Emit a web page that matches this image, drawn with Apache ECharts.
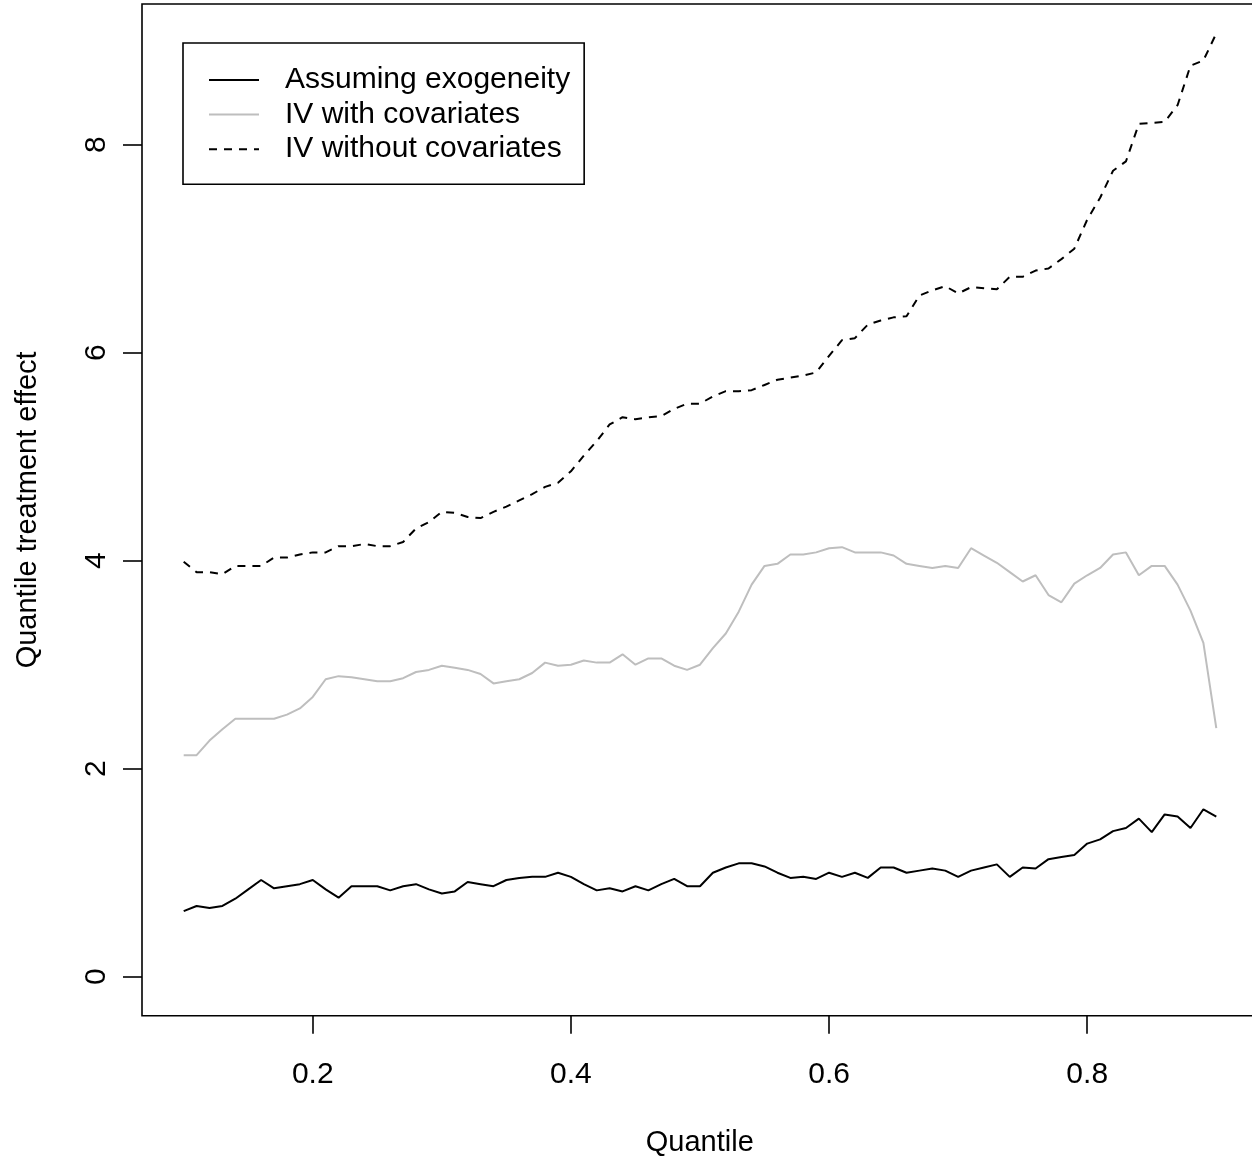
<!DOCTYPE html>
<html>
<head>
<meta charset="utf-8">
<script src="https://cdn.jsdelivr.net/npm/echarts@6/dist/echarts.min.js"></script>
<style>
html,body{margin:0;padding:0;background:#fff;}
#chart{width:1252px;height:1162px;}
</style>
</head>
<body>
<div id="chart"></div>
<script>
const quantiles = [0.10,0.11,0.12,0.13,0.14,0.15,0.16,0.17,0.18,0.19,
0.20,0.21,0.22,0.23,0.24,0.25,0.26,0.27,0.28,0.29,
0.30,0.31,0.32,0.33,0.34,0.35,0.36,0.37,0.38,0.39,
0.40,0.41,0.42,0.43,0.44,0.45,0.46,0.47,0.48,0.49,
0.50,0.51,0.52,0.53,0.54,0.55,0.56,0.57,0.58,0.59,
0.60,0.61,0.62,0.63,0.64,0.65,0.66,0.67,0.68,0.69,
0.70,0.71,0.72,0.73,0.74,0.75,0.76,0.77,0.78,0.79,
0.80,0.81,0.82,0.83,0.84,0.85,0.86,0.87,0.88,0.89,0.90];

const exogeneity = [0.63,0.68,0.66,0.68,0.75,0.84,0.93,0.85,0.87,0.89,
0.93,0.84,0.76,0.87,0.87,0.87,0.83,0.87,0.89,0.84,
0.80,0.82,0.91,0.89,0.87,0.93,0.95,0.96,0.96,1.00,
0.96,0.89,0.83,0.85,0.82,0.87,0.83,0.89,0.94,0.87,
0.87,1.00,1.05,1.09,1.09,1.06,1.00,0.95,0.96,0.94,
1.00,0.96,1.00,0.95,1.05,1.05,1.00,1.02,1.04,1.02,
0.96,1.02,1.05,1.08,0.96,1.05,1.04,1.13,1.15,1.17,
1.28,1.32,1.40,1.43,1.52,1.39,1.56,1.54,1.43,1.61,1.54];

const ivWithCov = [2.13,2.13,2.27,2.38,2.48,2.48,2.48,2.48,2.52,2.58,
2.69,2.86,2.89,2.88,2.86,2.84,2.84,2.87,2.93,2.95,
2.99,2.97,2.95,2.91,2.82,2.84,2.86,2.92,3.02,2.99,
3.00,3.04,3.02,3.02,3.10,3.00,3.06,3.06,2.99,2.95,
3.00,3.16,3.30,3.51,3.77,3.95,3.97,4.06,4.06,4.08,
4.12,4.13,4.08,4.08,4.08,4.05,3.97,3.95,3.93,3.95,
3.93,4.12,4.05,3.98,3.89,3.80,3.86,3.67,3.60,3.78,
3.86,3.93,4.06,4.08,3.86,3.95,3.95,3.77,3.52,3.21,2.39];

const ivWithoutCov = [3.99,3.89,3.89,3.87,3.95,3.95,3.95,4.03,4.03,4.06,
4.08,4.08,4.14,4.14,4.16,4.14,4.14,4.18,4.31,4.37,
4.47,4.46,4.42,4.41,4.47,4.52,4.58,4.64,4.71,4.75,
4.86,5.01,5.15,5.31,5.38,5.36,5.38,5.39,5.46,5.51,
5.51,5.58,5.63,5.63,5.64,5.69,5.74,5.76,5.78,5.81,
5.97,6.12,6.14,6.27,6.31,6.34,6.35,6.55,6.60,6.64,
6.57,6.63,6.62,6.61,6.73,6.73,6.79,6.81,6.90,7.00,
7.28,7.49,7.75,7.84,8.20,8.21,8.22,8.38,8.76,8.81,9.07];

const seriesNames = ['Assuming exogeneity','IV with covariates','IV without covariates'];
const xTicks = [0.2,0.4,0.6,0.8];
const yTicks = [0,2,4,6,8];

const FONT = 'Liberation Sans, Arial, Helvetica, sans-serif';
const pairs = (ys) => quantiles.map((q, i) => [q, ys[i]]);

const chart = echarts.init(document.getElementById('chart'));
chart.setOption({
  animation: false,
  backgroundColor: '#fff',
  grid: {
    left: 142, top: 4, right: -5.6, bottom: 146.3,
    outerBoundsMode: 'none', containLabel: false,
    show: true, borderColor: '#000', borderWidth: 1.6, backgroundColor: 'transparent'
  },
  legend: {
    orient: 'vertical', left: 183, top: 43,
    padding: [22, 14, 20, 25],
    itemWidth: 50, itemHeight: 2, itemGap: 4.6,
    borderColor: '#000', borderWidth: 1.6,
    itemStyle: { color: 'rgba(0,0,0,0)', borderColor: 'rgba(0,0,0,0)', borderWidth: 0, opacity: 0 },
    textStyle: { fontSize: 30, color: '#000', fontFamily: FONT, padding: [0, 0, 0, 21] },
    data: seriesNames
  },
  xAxis: {
    type: 'value', min: 0.0677, max: 0.932,
    name: 'Quantile', nameLocation: 'middle', nameGap: 113,
    nameTextStyle: { fontSize: 29, color: '#000', fontFamily: FONT },
    axisLine: { show: false, onZero: false },
    splitLine: { show: false },
    axisTick: { show: true, length: 18, customValues: xTicks, lineStyle: { color: '#000', width: 1.6 } },
    axisLabel: { customValues: xTicks, fontSize: 30, color: '#000', fontFamily: FONT, margin: 44,
      formatter: (v) => String(v) }
  },
  yAxis: {
    type: 'value', min: -0.375, max: 9.353,
    name: 'Quantile treatment effect', nameLocation: 'middle', nameGap: 100,
    nameTextStyle: { fontSize: 29, color: '#000', fontFamily: FONT },
    axisLine: { show: false, onZero: false },
    splitLine: { show: false },
    axisTick: { show: true, length: 19, customValues: yTicks, lineStyle: { color: '#000', width: 1.6 } },
    axisLabel: { customValues: yTicks, fontSize: 30, color: '#000', fontFamily: FONT, margin: 30, rotate: 90 }
  },
  series: [
    { name: seriesNames[0], type: 'line', data: pairs(exogeneity), showSymbol: false, symbol: 'none',
      lineStyle: { color: '#000', width: 2 }, itemStyle: { color: '#000' } },
    { name: seriesNames[1], type: 'line', data: pairs(ivWithCov), showSymbol: false, symbol: 'none',
      lineStyle: { color: '#bebebe', width: 2 }, itemStyle: { color: '#bebebe' } },
    { name: seriesNames[2], type: 'line', data: pairs(ivWithoutCov), showSymbol: false, symbol: 'none',
      lineStyle: { color: '#000', width: 2, type: [8, 7] }, itemStyle: { color: '#000' } }
  ]
});
</script>
</body>
</html>
